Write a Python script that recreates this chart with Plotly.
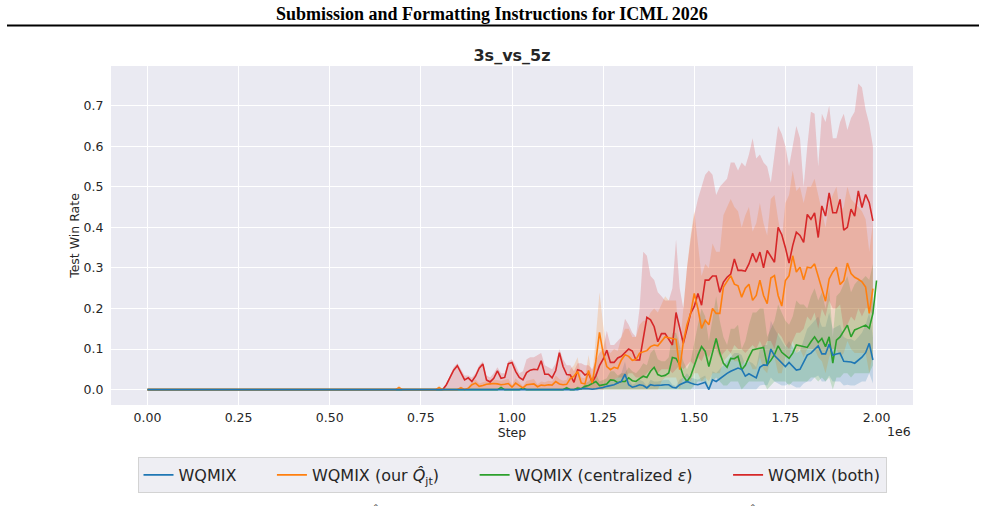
import plotly.graph_objects as go

# ---------------- data (test win rate, evaluated every 10k steps) ----------------
STEPS = [i * 10000 for i in range(201)]  # 0 .. 2.0e6

blue_mean = [
    0, 0, 0, 0, 0, 0, 0, 0, 0, 0, 0, 0, 0, 0, 0, 0, 0, 0, 0, 0,
    0, 0, 0, 0, 0, 0, 0, 0, 0, 0, 0, 0, 0, 0, 0, 0, 0, 0, 0, 0,
    0, 0, 0, 0, 0, 0, 0, 0, 0, 0, 0, 0, 0, 0, 0, 0, 0, 0, 0, 0,
    0, 0, 0, 0, 0, 0, 0, 0, 0, 0, 0, 0, 0, 0, 0, 0, 0, 0, 0, 0,
    0, 0, 0, 0, 0, 0, 0, 0, 0, 0, 0, 0, 0, 0, 0, 0, 0, 0, 0, 0,
    0, 0, 0, 0, 0, 0, 0, 0, 0, 0, 0, 0, 0, 0, 0, 0, 0, 0, 0, 0.002,
    0.003, 0.002, 0.001, 0.002, 0.003, 0.005, 0.008, 0.01, 0.012, 0.016, 0.02, 0.038, 0.012, 0.006, 0.008, 0.012, 0.01, 0.004, 0.012, 0.01,
    0.01, 0.011, 0.012, 0.012, 0.006, 0.004, 0.012, 0.016, 0.02, 0.016, 0.013, 0.012, 0.016, 0.018, 0.0, 0.024, 0.02, 0.027, 0.033, 0.04,
    0.045, 0.05, 0.053, 0.05, 0.033, 0.039, 0.035, 0.029, 0.055, 0.061, 0.06, 0.1, 0.084, 0.075, 0.065, 0.057, 0.067, 0.058, 0.048, 0.05,
    0.067, 0.085, 0.09, 0.1, 0.108, 0.088, 0.088, 0.112, 0.085, 0.088, 0.09, 0.07, 0.069, 0.068, 0.065, 0.072, 0.08, 0.091, 0.114, 0.073,
]
blue_upper = [
    0, 0, 0, 0, 0, 0, 0, 0, 0, 0, 0, 0, 0, 0, 0, 0, 0, 0, 0, 0,
    0, 0, 0, 0, 0, 0, 0, 0, 0, 0, 0, 0, 0, 0, 0, 0, 0, 0, 0, 0,
    0, 0, 0, 0, 0, 0, 0, 0, 0, 0, 0, 0, 0, 0, 0, 0, 0, 0, 0, 0,
    0, 0, 0, 0, 0, 0, 0, 0, 0, 0, 0, 0, 0, 0, 0, 0, 0, 0, 0, 0,
    0, 0, 0, 0, 0, 0, 0, 0, 0, 0, 0, 0, 0, 0, 0, 0, 0, 0, 0, 0,
    0, 0, 0, 0, 0, 0, 0, 0, 0, 0, 0, 0, 0, 0, 0, 0, 0, 0, 0, 0.004,
    0.006, 0.004, 0.003, 0.004, 0.006, 0.01, 0.016, 0.02, 0.024, 0.03, 0.04, 0.07, 0.024, 0.012, 0.016, 0.024, 0.02, 0.008, 0.024, 0.02,
    0.02, 0.022, 0.024, 0.024, 0.012, 0.008, 0.024, 0.03, 0.04, 0.03, 0.026, 0.024, 0.03, 0.035, 0.0, 0.045, 0.04, 0.05, 0.06, 0.07,
    0.08, 0.09, 0.09, 0.085, 0.06, 0.07, 0.065, 0.055, 0.1, 0.11, 0.11, 0.17, 0.15, 0.135, 0.12, 0.105, 0.12, 0.105, 0.09, 0.095,
    0.12, 0.15, 0.16, 0.17, 0.18, 0.155, 0.155, 0.19, 0.15, 0.155, 0.16, 0.13, 0.125, 0.125, 0.12, 0.13, 0.14, 0.16, 0.19, 0.13,
]
blue_lower = [
    0, 0, 0, 0, 0, 0, 0, 0, 0, 0, 0, 0, 0, 0, 0, 0, 0, 0, 0, 0,
    0, 0, 0, 0, 0, 0, 0, 0, 0, 0, 0, 0, 0, 0, 0, 0, 0, 0, 0, 0,
    0, 0, 0, 0, 0, 0, 0, 0, 0, 0, 0, 0, 0, 0, 0, 0, 0, 0, 0, 0,
    0, 0, 0, 0, 0, 0, 0, 0, 0, 0, 0, 0, 0, 0, 0, 0, 0, 0, 0, 0,
    0, 0, 0, 0, 0, 0, 0, 0, 0, 0, 0, 0, 0, 0, 0, 0, 0, 0, 0, 0,
    0, 0, 0, 0, 0, 0, 0, 0, 0, 0, 0, 0, 0, 0, 0, 0, 0, 0, 0, 0,
    0, 0, 0, 0, 0, 0, 0, 0, 0, 0, 0, 0, 0, 0, 0, 0, 0, 0, 0, 0,
    0, 0, 0, 0, 0, 0, 0, 0, 0, 0, 0, 0, 0, 0, 0, 0, 0, 0, 0, 0,
    0, 0, 0, 0, 0, 0, 0, 0, 0.01, 0.012, 0.01, 0.03, 0.02, 0.015, 0.01, 0.01, 0.015, 0.01, 0.005, 0.005,
    0.015, 0.02, 0.02, 0.03, 0.035, 0.02, 0.02, 0.035, 0.02, 0.02, 0.02, 0.01, 0.012, 0.01, 0.01, 0.015, 0.02, 0.02, 0.04, 0.015,
]

orange_mean = [
    0, 0, 0, 0, 0, 0, 0, 0, 0, 0, 0, 0, 0, 0, 0, 0, 0, 0, 0, 0,
    0, 0, 0, 0, 0, 0, 0, 0, 0, 0, 0, 0, 0, 0, 0, 0, 0, 0, 0, 0,
    0, 0, 0, 0, 0, 0, 0, 0, 0, 0, 0, 0, 0, 0, 0, 0, 0, 0, 0, 0,
    0, 0, 0, 0, 0, 0, 0, 0, 0, 0.005, 0, 0, 0, 0, 0, 0, 0, 0, 0, 0,
    0.005, 0, 0, 0, 0, 0, 0.004, 0, 0.003, 0.012, 0.016, 0.008, 0.01, 0.013, 0.014, 0.015, 0.014, 0.012, 0.013, 0.015,
    0.006, 0.016, 0.01, 0.004, 0.012, 0.013, 0.014, 0.007, 0.011, 0.01, 0.012, 0.011, 0.02, 0.014, 0.012, 0.013, 0.027, 0.033, 0.045, 0.016,
    0.014, 0.047, 0.016, 0.07, 0.141, 0.09, 0.057, 0.049, 0.055, 0.052, 0.073, 0.086, 0.082, 0.072, 0.074, 0.09, 0.094, 0.096, 0.106, 0.11,
    0.108, 0.118, 0.13, 0.128, 0.126, 0.124, 0.049, 0.118, 0.16, 0.188, 0.237, 0.2, 0.151, 0.171, 0.16, 0.2, 0.188, 0.188, 0.253, 0.268,
    0.281, 0.26, 0.256, 0.228, 0.25, 0.26, 0.22, 0.232, 0.27, 0.232, 0.212, 0.275, 0.281, 0.232, 0.206, 0.269, 0.281, 0.33, 0.29, 0.302,
    0.271, 0.302, 0.3, 0.31, 0.281, 0.253, 0.218, 0.273, 0.29, 0.302, 0.259, 0.269, 0.312, 0.286, 0.277, 0.272, 0.266, 0.253, 0.188, 0.249,
]
orange_upper = [
    0, 0, 0, 0, 0, 0, 0, 0, 0, 0, 0, 0, 0, 0, 0, 0, 0, 0, 0, 0,
    0, 0, 0, 0, 0, 0, 0, 0, 0, 0, 0, 0, 0, 0, 0, 0, 0, 0, 0, 0,
    0, 0, 0, 0, 0, 0, 0, 0, 0, 0, 0, 0, 0, 0, 0, 0, 0, 0, 0, 0,
    0, 0, 0, 0, 0, 0, 0, 0, 0, 0.01, 0, 0, 0, 0, 0, 0, 0, 0, 0, 0,
    0.01, 0, 0, 0, 0, 0, 0.008, 0, 0.006, 0.02, 0.025, 0.015, 0.018, 0.022, 0.024, 0.025, 0.024, 0.022, 0.024, 0.026,
    0.012, 0.028, 0.018, 0.008, 0.022, 0.024, 0.026, 0.013, 0.02, 0.018, 0.022, 0.02, 0.035, 0.026, 0.022, 0.024, 0.05, 0.06, 0.08, 0.03,
    0.028, 0.085, 0.03, 0.13, 0.24, 0.16, 0.1, 0.09, 0.1, 0.095, 0.13, 0.15, 0.15, 0.13, 0.13, 0.16, 0.17, 0.17, 0.19, 0.2,
    0.19, 0.21, 0.23, 0.22, 0.22, 0.22, 0.1, 0.21, 0.3, 0.38, 0.44, 0.36, 0.28, 0.31, 0.3, 0.36, 0.34, 0.34, 0.43, 0.45,
    0.47, 0.45, 0.44, 0.4, 0.43, 0.45, 0.39, 0.41, 0.46, 0.41, 0.38, 0.47, 0.48, 0.42, 0.37, 0.46, 0.48, 0.54, 0.49, 0.5,
    0.46, 0.5, 0.5, 0.52, 0.48, 0.44, 0.4, 0.46, 0.48, 0.5, 0.44, 0.45, 0.5, 0.47, 0.46, 0.45, 0.44, 0.42, 0.34, 0.41,
]
orange_lower = [
    0, 0, 0, 0, 0, 0, 0, 0, 0, 0, 0, 0, 0, 0, 0, 0, 0, 0, 0, 0,
    0, 0, 0, 0, 0, 0, 0, 0, 0, 0, 0, 0, 0, 0, 0, 0, 0, 0, 0, 0,
    0, 0, 0, 0, 0, 0, 0, 0, 0, 0, 0, 0, 0, 0, 0, 0, 0, 0, 0, 0,
    0, 0, 0, 0, 0, 0, 0, 0, 0, 0, 0, 0, 0, 0, 0, 0, 0, 0, 0, 0,
    0, 0, 0, 0, 0, 0, 0, 0, 0, 0, 0, 0, 0, 0, 0, 0, 0, 0, 0, 0,
    0, 0, 0, 0, 0, 0, 0, 0, 0, 0, 0, 0, 0, 0, 0, 0, 0, 0, 0, 0,
    0, 0, 0, 0, 0, 0, 0, 0, 0, 0, 0, 0, 0, 0, 0, 0, 0, 0, 0, 0,
    0, 0.02, 0.03, 0.03, 0.03, 0.03, 0.0, 0.03, 0.03, 0.02, 0.04, 0.04, 0.02, 0.03, 0.02, 0.04, 0.04, 0.04, 0.07, 0.08,
    0.09, 0.07, 0.07, 0.06, 0.07, 0.07, 0.05, 0.05, 0.08, 0.05, 0.04, 0.08, 0.08, 0.04, 0.04, 0.08, 0.08, 0.12, 0.09, 0.1,
    0.08, 0.1, 0.1, 0.1, 0.08, 0.07, 0.04, 0.08, 0.1, 0.1, 0.08, 0.09, 0.12, 0.1, 0.09, 0.09, 0.09, 0.09, 0.04, 0.09,
]

green_mean = [
    0, 0, 0, 0, 0, 0, 0, 0, 0, 0, 0, 0, 0, 0, 0, 0, 0, 0, 0, 0,
    0, 0, 0, 0, 0, 0, 0, 0, 0, 0, 0, 0, 0, 0, 0, 0, 0, 0, 0, 0,
    0, 0, 0, 0, 0, 0, 0, 0, 0, 0, 0, 0, 0, 0, 0, 0, 0, 0, 0, 0,
    0, 0, 0, 0, 0, 0, 0, 0, 0, 0, 0, 0, 0, 0, 0, 0, 0, 0, 0, 0,
    0, 0, 0, 0, 0, 0, 0, 0, 0, 0, 0, 0, 0, 0, 0, 0, 0, 0.005, 0, 0,
    0, 0, 0, 0.003, 0, 0, 0, 0, 0, 0, 0, 0, 0, 0, 0, 0.004, 0, 0, 0.004, 0.002,
    0.008, 0.01, 0.016, 0.02, 0.01, 0.012, 0.014, 0.024, 0.023, 0.017, 0.02, 0.02, 0.029, 0.022, 0.02, 0.027, 0.033, 0.03, 0.045, 0.055,
    0.037, 0.033, 0.035, 0.041, 0.079, 0.077, 0.061, 0.033, 0.02, 0.033, 0.061, 0.085, 0.106, 0.094, 0.057, 0.09, 0.126, 0.09, 0.065, 0.055,
    0.077, 0.076, 0.082, 0.049, 0.06, 0.08, 0.098, 0.1, 0.102, 0.104, 0.061, 0.072, 0.086, 0.108, 0.092, 0.085, 0.077, 0.09, 0.11, 0.108,
    0.106, 0.104, 0.118, 0.13, 0.116, 0.126, 0.106, 0.13, 0.065, 0.122, 0.13, 0.145, 0.159, 0.13, 0.147, 0.151, 0.155, 0.159, 0.151, 0.188,
    0.269,
]
green_upper = [
    0, 0, 0, 0, 0, 0, 0, 0, 0, 0, 0, 0, 0, 0, 0, 0, 0, 0, 0, 0,
    0, 0, 0, 0, 0, 0, 0, 0, 0, 0, 0, 0, 0, 0, 0, 0, 0, 0, 0, 0,
    0, 0, 0, 0, 0, 0, 0, 0, 0, 0, 0, 0, 0, 0, 0, 0, 0, 0, 0, 0,
    0, 0, 0, 0, 0, 0, 0, 0, 0, 0, 0, 0, 0, 0, 0, 0, 0, 0, 0, 0,
    0, 0, 0, 0, 0, 0, 0, 0, 0, 0, 0, 0, 0, 0, 0, 0, 0, 0.01, 0, 0,
    0, 0, 0, 0.006, 0, 0, 0, 0, 0, 0, 0, 0, 0, 0, 0, 0.008, 0, 0, 0.008, 0.004,
    0.015, 0.02, 0.03, 0.04, 0.02, 0.025, 0.028, 0.045, 0.045, 0.035, 0.04, 0.04, 0.055, 0.045, 0.04, 0.05, 0.065, 0.06, 0.09, 0.1,
    0.075, 0.07, 0.07, 0.08, 0.14, 0.14, 0.11, 0.07, 0.05, 0.07, 0.12, 0.16, 0.2, 0.18, 0.12, 0.17, 0.23, 0.17, 0.13, 0.11,
    0.15, 0.15, 0.16, 0.1, 0.12, 0.16, 0.19, 0.19, 0.2, 0.2, 0.13, 0.15, 0.17, 0.21, 0.19, 0.17, 0.16, 0.18, 0.22, 0.21,
    0.21, 0.2, 0.23, 0.25, 0.22, 0.24, 0.2, 0.25, 0.13, 0.23, 0.24, 0.26, 0.28, 0.24, 0.26, 0.27, 0.27, 0.28, 0.27, 0.31,
]
green_lower = [
    0, 0, 0, 0, 0, 0, 0, 0, 0, 0, 0, 0, 0, 0, 0, 0, 0, 0, 0, 0,
    0, 0, 0, 0, 0, 0, 0, 0, 0, 0, 0, 0, 0, 0, 0, 0, 0, 0, 0, 0,
    0, 0, 0, 0, 0, 0, 0, 0, 0, 0, 0, 0, 0, 0, 0, 0, 0, 0, 0, 0,
    0, 0, 0, 0, 0, 0, 0, 0, 0, 0, 0, 0, 0, 0, 0, 0, 0, 0, 0, 0,
    0, 0, 0, 0, 0, 0, 0, 0, 0, 0, 0, 0, 0, 0, 0, 0, 0, 0, 0, 0,
    0, 0, 0, 0, 0, 0, 0, 0, 0, 0, 0, 0, 0, 0, 0, 0, 0, 0, 0, 0,
    0, 0, 0, 0, 0, 0, 0, 0, 0, 0, 0, 0, 0, 0, 0, 0, 0, 0, 0, 0,
    0, 0, 0, 0, 0, 0, 0, 0, 0, 0, 0.01, 0.02, 0.02, 0.02, 0.0, 0.02, 0.03, 0.02, 0.01, 0.01,
    0.02, 0.02, 0.02, 0.0, 0.01, 0.02, 0.02, 0.02, 0.02, 0.02, 0.0, 0.01, 0.02, 0.02, 0.02, 0.02, 0.01, 0.02, 0.02, 0.02,
    0.02, 0.02, 0.03, 0.03, 0.02, 0.03, 0.02, 0.03, 0.0, 0.03, 0.03, 0.04, 0.04, 0.03, 0.04, 0.04, 0.04, 0.04, 0.04, 0.06,
]

red_mean = [
    0, 0, 0, 0, 0, 0, 0, 0, 0, 0, 0, 0, 0, 0, 0, 0, 0, 0, 0, 0,
    0, 0, 0, 0, 0, 0, 0, 0, 0, 0, 0, 0, 0, 0, 0, 0, 0, 0, 0, 0,
    0, 0, 0, 0, 0, 0, 0, 0, 0, 0, 0, 0, 0, 0, 0, 0, 0, 0, 0, 0,
    0, 0, 0, 0, 0, 0, 0, 0, 0, 0, 0, 0, 0, 0, 0, 0, 0, 0, 0, 0,
    0, 0, 0.012, 0.03, 0.048, 0.059, 0.04, 0.024, 0.029, 0.02, 0.033, 0.053, 0.063, 0.024, 0.019, 0.028, 0.046, 0.028, 0.03, 0.064,
    0.067, 0.045, 0.03, 0.024, 0.042, 0.048, 0.05, 0.049, 0.071, 0.038, 0.038, 0.029, 0.047, 0.091, 0.057, 0.037, 0.036, 0.018, 0.049, 0.046,
    0.036, 0.04, 0.018, 0.034, 0.059, 0.075, 0.097, 0.067, 0.067, 0.078, 0.082, 0.092, 0.1, 0.095, 0.073, 0.073, 0.13, 0.178, 0.172, 0.155,
    0.118, 0.138, 0.138, 0.124, 0.11, 0.19, 0.15, 0.114, 0.15, 0.188, 0.205, 0.237, 0.208, 0.27, 0.27, 0.28, 0.28, 0.24, 0.265, 0.277,
    0.285, 0.322, 0.294, 0.294, 0.292, 0.31, 0.336, 0.314, 0.339, 0.30, 0.343, 0.33, 0.314, 0.40, 0.382, 0.35, 0.312, 0.355, 0.388, 0.38,
    0.363, 0.432, 0.42, 0.436, 0.375, 0.453, 0.428, 0.485, 0.436, 0.436, 0.469, 0.393, 0.40, 0.445, 0.428, 0.49, 0.449, 0.481, 0.461, 0.416,
]
red_upper = [
    0, 0, 0, 0, 0, 0, 0, 0, 0, 0, 0, 0, 0, 0, 0, 0, 0, 0, 0, 0,
    0, 0, 0, 0, 0, 0, 0, 0, 0, 0, 0, 0, 0, 0, 0, 0, 0, 0, 0, 0,
    0, 0, 0, 0, 0, 0, 0, 0, 0, 0, 0, 0, 0, 0, 0, 0, 0, 0, 0, 0,
    0, 0, 0, 0, 0, 0, 0, 0, 0, 0, 0, 0, 0, 0, 0, 0, 0, 0, 0, 0,
    0, 0, 0.015, 0.035, 0.055, 0.065, 0.05, 0.035, 0.035, 0.03, 0.04, 0.06, 0.07, 0.035, 0.03, 0.04, 0.055, 0.04, 0.04, 0.07,
    0.075, 0.06, 0.04, 0.045, 0.075, 0.08, 0.08, 0.085, 0.09, 0.06, 0.055, 0.05, 0.065, 0.1, 0.075, 0.06, 0.06, 0.045, 0.065, 0.065,
    0.06, 0.06, 0.05, 0.07, 0.09, 0.1, 0.145, 0.11, 0.11, 0.12, 0.13, 0.175, 0.16, 0.14, 0.13, 0.2, 0.34, 0.33, 0.28, 0.27,
    0.24, 0.23, 0.22, 0.22, 0.25, 0.37, 0.25, 0.2, 0.3, 0.37, 0.43, 0.47, 0.5, 0.53, 0.54, 0.53, 0.48, 0.5, 0.51, 0.52,
    0.56, 0.56, 0.54, 0.56, 0.55, 0.58, 0.62, 0.57, 0.58, 0.56, 0.55, 0.51, 0.58, 0.65, 0.63, 0.6, 0.55, 0.6, 0.65, 0.62,
    0.5, 0.6, 0.685, 0.68, 0.55, 0.68, 0.66, 0.70, 0.62, 0.62, 0.66, 0.68, 0.64, 0.67, 0.685, 0.755, 0.745, 0.69, 0.655, 0.6,
]
red_lower = [
    0, 0, 0, 0, 0, 0, 0, 0, 0, 0, 0, 0, 0, 0, 0, 0, 0, 0, 0, 0,
    0, 0, 0, 0, 0, 0, 0, 0, 0, 0, 0, 0, 0, 0, 0, 0, 0, 0, 0, 0,
    0, 0, 0, 0, 0, 0, 0, 0, 0, 0, 0, 0, 0, 0, 0, 0, 0, 0, 0, 0,
    0, 0, 0, 0, 0, 0, 0, 0, 0, 0, 0, 0, 0, 0, 0, 0, 0, 0, 0, 0,
    0, 0, 0, 0, 0, 0, 0, 0, 0, 0, 0, 0, 0, 0, 0, 0, 0, 0, 0, 0,
    0, 0, 0, 0, 0, 0, 0, 0, 0, 0, 0, 0, 0, 0, 0, 0, 0, 0, 0, 0,
    0, 0, 0, 0, 0, 0, 0.02, 0.02, 0.025, 0.03, 0.03, 0.03, 0.04, 0.04, 0.03, 0.03, 0.03, 0.04, 0.05, 0.05,
    0.04, 0.05, 0.05, 0.05, 0.04, 0.05, 0.06, 0.05, 0.06, 0.07, 0.06, 0.08, 0.07, 0.09, 0.08, 0.1, 0.1, 0.08, 0.09, 0.1,
    0.09, 0.11, 0.1, 0.1, 0.09, 0.1, 0.11, 0.1, 0.12, 0.1, 0.12, 0.12, 0.1, 0.14, 0.13, 0.11, 0.1, 0.12, 0.14, 0.14,
    0.15, 0.18, 0.17, 0.19, 0.15, 0.2, 0.18, 0.22, 0.2, 0.2, 0.21, 0.15, 0.16, 0.18, 0.17, 0.2, 0.18, 0.2, 0.2, 0.18,
]

SERIES_NAMES = [
    "WQMIX",
    "WQMIX (our <i>Q\u0302</i><sub>jt</sub>)",
    "WQMIX (centralized <i>\u03b5</i>)",
    "WQMIX (both)",
]
X_TICKS = [0, 250000, 500000, 750000, 1000000, 1250000, 1500000, 1750000, 2000000]
X_TICK_TEXT = ["0.00", "0.25", "0.50", "0.75", "1.00", "1.25", "1.50", "1.75", "2.00"]
Y_TICKS = [0.0, 0.1, 0.2, 0.3, 0.4, 0.5, 0.6, 0.7]
Y_TICK_TEXT = ["0.0", "0.1", "0.2", "0.3", "0.4", "0.5", "0.6", "0.7"]

# ---------------- figure ----------------
COLORS = [(31, 119, 180), (255, 127, 14), (44, 160, 44), (214, 39, 40)]
series = [
    (blue_mean, blue_lower, blue_upper),
    (orange_mean, orange_lower, orange_upper),
    (green_mean, green_lower, green_upper),
    (red_mean, red_lower, red_upper),
]
FONT = "DejaVu Sans"
TXT = "#262626"

fig = go.Figure()
for (mean, lo, up), (r, g, b) in zip(series, COLORS):
    xs = STEPS[:len(up)]
    fig.add_trace(go.Scatter(
        x=xs + xs[::-1], y=up + lo[::-1], mode="lines", fill="toself",
        fillcolor=f"rgba({r},{g},{b},0.2)", line=dict(width=0, color="rgba(0,0,0,0)"),
        hoverinfo="skip", showlegend=False))

NBSP = "\u00a0" * 6
# mean curves drawn in reverse so that the WQMIX (blue) curve sits on top at zero
for i in [3, 2, 1, 0]:
    mean = series[i][0]
    r, g, b = COLORS[i]
    fig.add_trace(go.Scatter(
        x=STEPS[:len(mean)], y=mean, mode="lines",
        name=SERIES_NAMES[i] + (NBSP if i < 3 else ""),
        line=dict(color=f"rgb({r},{g},{b})", width=1.6),
        legendrank=i + 1))

fig.update_layout(
    width=985, height=517,
    margin=dict(l=111, r=72, t=66, b=112),
    paper_bgcolor="white", plot_bgcolor="#EAEAF2",
    font=dict(family=FONT, color=TXT),
    title=dict(text="<b>3s_vs_5z</b>", x=0.5, xref="paper", xanchor="center",
               y=1 - 55 / 517, yref="container", yanchor="middle",
               font=dict(size=16, color=TXT, family=FONT)),
    xaxis=dict(range=[-100000, 2100000], tickmode="array", tickvals=X_TICKS, ticktext=X_TICK_TEXT,
               showgrid=True, gridcolor="white", gridwidth=1.2, zeroline=False, showline=False,
               ticks="outside", ticklen=1, tickcolor="rgba(0,0,0,0)",
               tickfont=dict(size=12.5, color=TXT),
               title=dict(text="Step", font=dict(size=12.5, color=TXT), standoff=2)),
    yaxis=dict(range=[-0.038, 0.798], tickmode="array", tickvals=Y_TICKS, ticktext=Y_TICK_TEXT,
               showgrid=True, gridcolor="white", gridwidth=1.2, zeroline=False, showline=False,
               ticks="outside", ticklen=4, tickcolor="rgba(0,0,0,0)",
               tickfont=dict(size=12.5, color=TXT),
               title=dict(text="Test Win Rate", font=dict(size=12.5, color=TXT), standoff=1)),
    legend=dict(orientation="h", x=0.5, xanchor="center", y=(405 - 457) / 339, yanchor="top",
                bgcolor="#EEEEF3", bordercolor="#D3D3D3", borderwidth=1,
                font=dict(size=16, color=TXT, family=FONT), traceorder="normal"),
    showlegend=True,
)

# offset text of the x axis
fig.add_annotation(text="1e6", xref="paper", yref="paper", x=1.0, y=(405 - 431) / 339,
                   xanchor="right", yanchor="middle", showarrow=False,
                   font=dict(size=12.5, color=TXT, family=FONT))

# page header above the figure
fig.add_annotation(text="<b>Submission and Formatting Instructions for ICML 2026</b>",
                   xref="paper", yref="paper", x=(492 - 111) / 802, y=(405 - 14) / 339,
                   xanchor="center", yanchor="middle", showarrow=False,
                   font=dict(size=18, color="black", family="Liberation Serif"))
fig.add_shape(type="line", xref="paper", yref="paper",
              x0=(7 - 111) / 802, x1=(979 - 111) / 802,
              y0=(405 - 25.5) / 339, y1=(405 - 25.5) / 339,
              line=dict(color="black", width=2))

# the accents of the next line of page text, visible at the bottom edge
for px in (376, 753):
    fig.add_annotation(text="\u02c6", xref="paper", yref="paper", x=(px - 111) / 802,
                       y=(405 - 516) / 339, xanchor="center", yanchor="bottom", showarrow=False,
                       font=dict(size=11, color="black", family="Liberation Serif"))

fig.write_html("out.html")
